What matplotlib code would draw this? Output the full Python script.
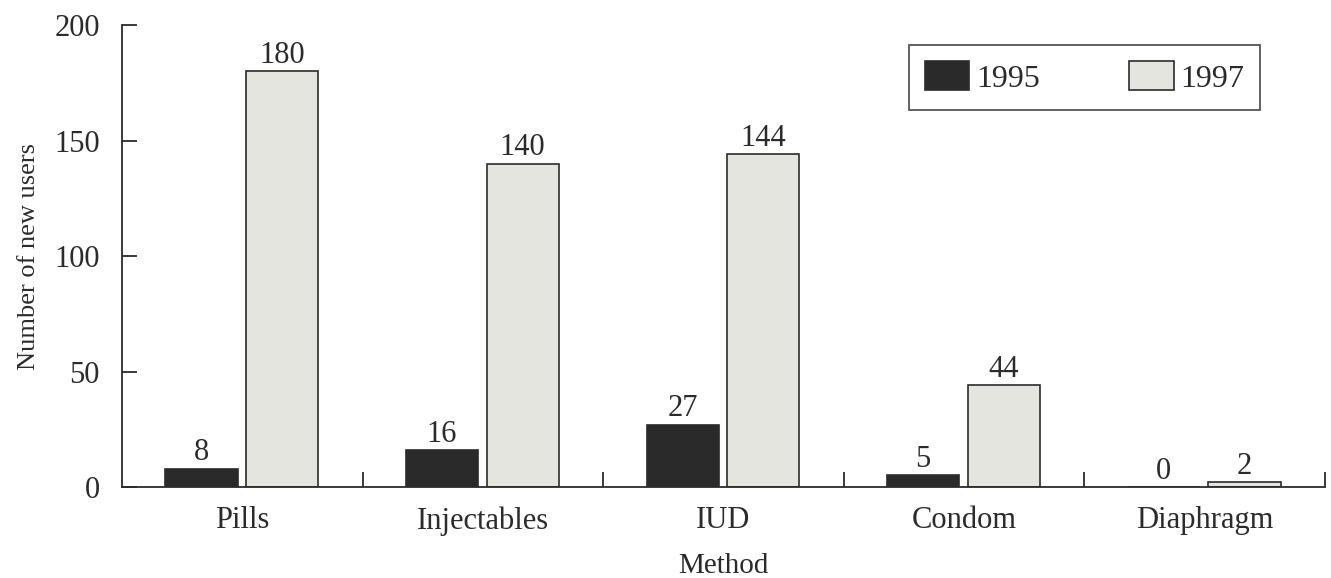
import matplotlib
matplotlib.use("Agg")
import matplotlib.pyplot as plt
import numpy as np

plt.rcParams['font.family'] = ['Liberation Serif', 'DejaVu Serif']

# Data
methods = ["Pills", "Injectables", "IUD", "Condom", "Diaphragm"]
users_1995 = [8, 16, 27, 5, 0]
users_1997 = [180, 140, 144, 44, 2]
years = ["1995", "1997"]
y_ticks = [0, 50, 100, 150, 200]

ink = '#2b2b2b'
dark_fill = '#2a2a2a'
light_fill = '#e5e5e0'

fig = plt.figure(figsize=(13.31, 5.78), dpi=100)
ax = fig.add_axes([0.0917, 0.1574, 0.9038, 0.7993])

x = np.arange(len(methods))
w = 0.30
b1 = ax.bar(x - 0.17, users_1995, width=w, color=dark_fill, edgecolor=ink,
            linewidth=1.2, label=years[0])
b2 = ax.bar(x + 0.165, users_1997, width=w, color=light_fill, edgecolor=ink,
            linewidth=1.2, label=years[1])

ax.bar_label(b1, labels=[str(v) for v in users_1995], padding=1,
             fontsize=22, color=ink)
ax.bar_label(b2, labels=[str(v) for v in users_1997], padding=1,
             fontsize=22, color=ink)

ax.set_xlim(-0.5, len(methods) - 0.5)
ax.set_ylim(0, 200)

ax.set_yticks(y_ticks)
ax.tick_params(axis='y', direction='in', length=11, width=1.3, pad=16,
               labelsize=22, colors=ink)

ax.set_xticks(x)
ax.set_xticklabels(methods)
ax.tick_params(axis='x', which='major', length=0, pad=14, labelsize=22,
               colors=ink)
ax.set_xticks(np.arange(len(methods)) + 0.5, minor=True)
ax.tick_params(axis='x', which='minor', direction='in', length=11, width=1.3,
               color=ink)

ax.set_ylabel("Number of new users", fontsize=19, color=ink, labelpad=10)
ax.set_xlabel("Method", fontsize=21, color=ink, labelpad=12)

for side in ['top', 'right']:
    ax.spines[side].set_visible(False)
for side in ['left', 'bottom']:
    ax.spines[side].set_color(ink)
    ax.spines[side].set_linewidth(1.3)

leg = ax.legend(ncol=2, loc='upper right', bbox_to_anchor=(0.946, 0.957),
                fontsize=23, frameon=True, fancybox=False,
                handlelength=1.4, handleheight=1.05, handletextpad=0.2,
                columnspacing=2.8, borderpad=0.5, borderaxespad=0)
leg.get_frame().set_edgecolor(ink)
leg.get_frame().set_linewidth(1.3)
for t in leg.get_texts():
    t.set_color(ink)

fig.savefig("out.png", dpi=100)
